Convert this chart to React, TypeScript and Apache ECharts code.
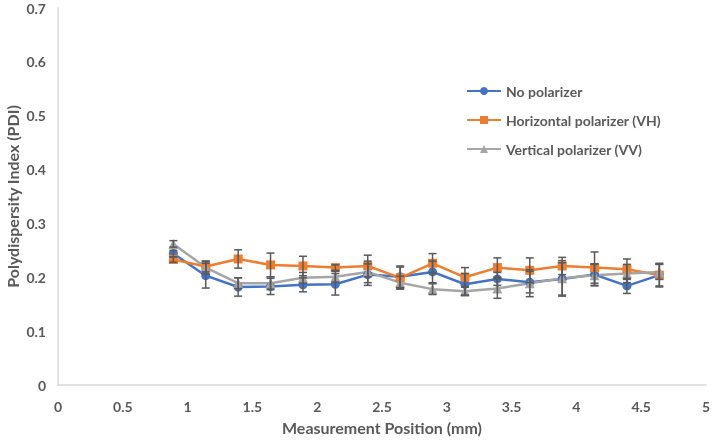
import React, { useEffect, useRef } from "react";
import * as echarts from "echarts";

const positions = [0.89, 1.14, 1.39, 1.64, 1.89, 2.14, 2.39, 2.64, 2.89, 3.14, 3.39, 3.64, 3.89, 4.14, 4.39, 4.64];

const noPol = [0.244, 0.203, 0.182, 0.183, 0.186, 0.187, 0.205, 0.201, 0.210, 0.187, 0.197, 0.191, 0.197, 0.205, 0.184, 0.204];
const noPolErr = [0.006, 0.023, 0.017, 0.015, 0.013, 0.02, 0.02, 0.02, 0.02, 0.02, 0.012, 0.02, 0.03, 0.02, 0.014, 0.02];

const horiz = [0.233, 0.220, 0.234, 0.223, 0.221, 0.218, 0.221, 0.199, 0.226, 0.200, 0.218, 0.213, 0.221, 0.218, 0.215, 0.204];
const horizErr = [0.005, 0.01, 0.017, 0.022, 0.018, 0.005, 0.02, 0.02, 0.018, 0.018, 0.018, 0.023, 0.016, 0.029, 0.019, 0.022];

const vert = [0.262, 0.218, 0.189, 0.189, 0.199, 0.201, 0.210, 0.190, 0.178, 0.174, 0.179, 0.189, 0.198, 0.204, 0.207, 0.210];
const vertErr = [0.006, 0.012, 0.01, 0.012, 0.01, 0.01, 0.02, 0.012, 0.01, 0.008, 0.018, 0.025, 0.033, 0.02, 0.017, 0.014];

const xTicks = ["0", "0.5", "1", "1.5", "2", "2.5", "3", "3.5", "4", "4.5", "5"];

const FONT = "Lato, 'Open Sans', sans-serif";
const TEXT = "#595959";

function errSeries(vals: number[], errs: number[]) {
  return {
    type: "custom",
    silent: true,
    z: 5,
    data: positions.map((x, i) => [x, vals[i] - errs[i], vals[i] + errs[i]]),
    renderItem: (params: any, api: any) => {
      const x = api.value(0);
      const lo = api.coord([x, api.value(1)]);
      const hi = api.coord([x, api.value(2)]);
      const w = 4;
      const style = { stroke: "#595959", lineWidth: 1.5, fill: "none" };
      return {
        type: "group",
        children: [
          { type: "line", shape: { x1: lo[0], y1: lo[1], x2: hi[0], y2: hi[1] }, style },
          { type: "line", shape: { x1: lo[0] - w, y1: lo[1], x2: lo[0] + w, y2: lo[1] }, style },
          { type: "line", shape: { x1: hi[0] - w, y1: hi[1], x2: hi[0] + w, y2: hi[1] }, style },
        ],
      };
    },
  };
}

export default function App() {
  const ref = useRef<HTMLDivElement>(null);
  useEffect(() => {
    if (!ref.current) return;
    const chart = echarts.init(ref.current, null, { renderer: "svg" });
    const lineSeries = (name: string, vals: number[], color: string, symbol: string, size: number) => ({
      name,
      type: "line",
      data: positions.map((x, i) => [x, vals[i]]),
      symbol,
      symbolSize: size,
      lineStyle: { color, width: 2.5 },
      itemStyle: { color },
      z: 3,
    });
    chart.setOption({
      animation: false,
      textStyle: { fontFamily: FONT },
      grid: { left: 58, top: 8, right: 6, bottom: 56, outerBoundsMode: "none", containLabel: false },
      legend: {
        orient: "vertical",
        left: 461,
        top: 79,
        padding: 5,
        itemGap: 15,
        itemWidth: 34,
        itemHeight: 10,
        textStyle: { fontFamily: FONT, fontWeight: "bold", fontSize: 14, color: TEXT },
        data: ["No polarizer", "Horizontal polarizer (VH)", "Vertical polarizer (VV)"],
      },
      xAxis: {
        type: "value",
        min: 0,
        max: 5,
        interval: 0.5,
        name: "Measurement Position (mm)",
        nameLocation: "middle",
        nameMoveOverlap: false,
        nameGap: 34,
        nameTextStyle: { fontFamily: FONT, fontWeight: "bold", fontSize: 16, color: TEXT },
        axisLine: { lineStyle: { color: "#d9d9d9", width: 1.5 } },
        axisTick: { show: false },
        splitLine: { show: false },
        axisLabel: {
          margin: 14,
          fontFamily: FONT,
          fontWeight: "bold",
          fontSize: 14,
          color: TEXT,
          formatter: (v: number) => xTicks[Math.round(v / 0.5)] ?? String(v),
        },
      },
      yAxis: {
        type: "value",
        min: 0,
        max: 0.7,
        interval: 0.1,
        name: "Polydispersity Index (PDI)",
        nameLocation: "middle",
        nameMoveOverlap: false,
        nameGap: 38,
        nameTextStyle: { fontFamily: FONT, fontWeight: "bold", fontSize: 16, color: TEXT },
        axisLine: { show: true, lineStyle: { color: "#d9d9d9", width: 1.5 } },
        axisTick: { show: false },
        splitLine: { show: false },
        axisLabel: {
          margin: 12,
          fontFamily: FONT,
          fontWeight: "bold",
          fontSize: 14,
          color: TEXT,
          formatter: (v: number) => (v === 0 ? "0" : v.toFixed(1)),
        },
      },
      series: [
        lineSeries("No polarizer", noPol, "#4472C4", "circle", 9),
        lineSeries("Horizontal polarizer (VH)", horiz, "#ED7D31", "rect", 9),
        lineSeries("Vertical polarizer (VV)", vert, "#A5A5A5", "triangle", 10),
        errSeries(noPol, noPolErr),
        errSeries(horiz, horizErr),
        errSeries(vert, vertErr),
      ],
    });
    return () => chart.dispose();
  }, []);
  return <div ref={ref} style={{ position: "fixed", left: 0, top: 0, width: 712, height: 441 }} />;
}
